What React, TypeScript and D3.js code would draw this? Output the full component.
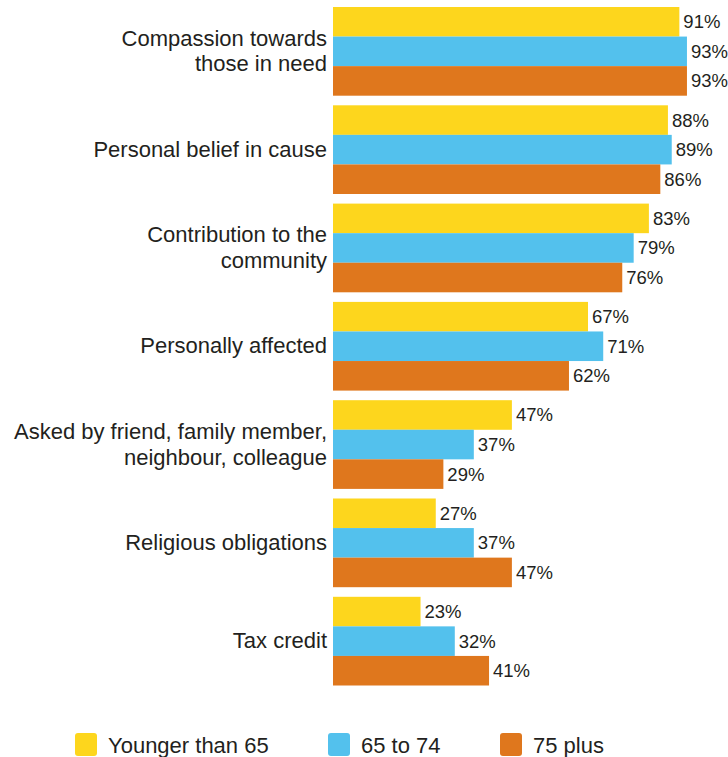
import React from "react";
import * as d3 from "d3";

const categories: string[][] = [
  ["Compassion towards", "those in need"],
  ["Personal belief in cause"],
  ["Contribution to the", "community"],
  ["Personally affected"],
  ["Asked by friend, family member,", "neighbour, colleague"],
  ["Religious obligations"],
  ["Tax credit"],
];
const seriesNames = ["Younger than 65", "65 to 74", "75 plus"];
const younger = [91, 88, 83, 67, 47, 27, 23];
const age65to74 = [93, 89, 79, 71, 37, 37, 32];
const age75plus = [93, 86, 76, 62, 29, 47, 41];
const colors = ["#FDD61D", "#53C1ED", "#DF771D"];

const W = 728;
const H = 757;

export default function App() {
  const series = [younger, age65to74, age75plus];
  const x = d3.scaleLinear().domain([0, 100]).range([333, 713.6]);
  const y0 = d3
    .scaleBand<number>()
    .domain(d3.range(categories.length))
    .range([7, 7 + 98.3 * 6 + 88.7])
    .paddingInner(9.6 / 98.3)
    .paddingOuter(0)
    .align(0);
  const y1 = d3.scaleBand<number>().domain([0, 1, 2]).range([0, y0.bandwidth()]).padding(0);
  const font = "'Liberation Sans', Arial, sans-serif";
  const textColor = "#231F20";
  const legendX = [75, 328, 500];

  return (
    <svg width={W} height={H} style={{ position: "absolute", left: 0, top: 0 }} fontFamily={font}>
      {categories.map((lines, i) => {
        const cy = (y0(i) as number) + y0.bandwidth() / 2 - 0.5;
        const lh = 25.5;
        return (
          <g key={i}>
            {lines.map((ln, k) => (
              <text
                key={k}
                x={327}
                y={cy + (k - (lines.length - 1) / 2) * lh}
                dy="0.35em"
                textAnchor="end"
                fontSize={22}
                fill={textColor}
              >
                {ln}
              </text>
            ))}
            {series.map((s, j) => {
              const by = (y0(i) as number) + (y1(j) as number);
              return (
                <g key={j}>
                  <rect x={x(0)} y={by} width={x(s[i]) - x(0)} height={y1.bandwidth()} fill={colors[j]} />
                  <text
                    x={x(s[i]) + 4}
                    y={by + y1.bandwidth() / 2}
                    dy="0.35em"
                    fontSize={18.5}
                    fill={textColor}
                  >
                    {s[i]}%
                  </text>
                </g>
              );
            })}
          </g>
        );
      })}
      {seriesNames.map((name, j) => (
        <g key={name}>
          <rect x={legendX[j]} y={733} width={22} height={23} rx={3} fill={colors[j]} />
          <text x={legendX[j] + 33} y={745} dy="0.35em" fontSize={22} fill={textColor}>
            {name}
          </text>
        </g>
      ))}
    </svg>
  );
}
